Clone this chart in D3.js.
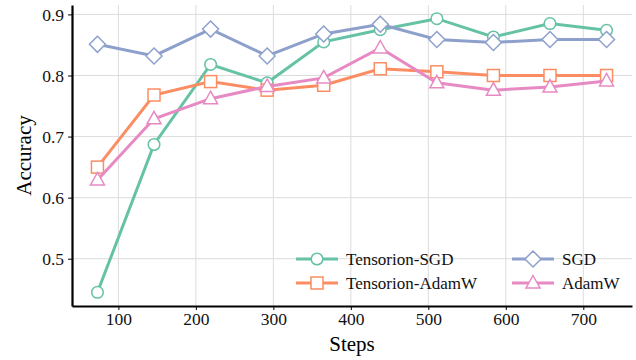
<!DOCTYPE html>
<html>
<head>
<meta charset="utf-8">
<script src="https://cdn.jsdelivr.net/npm/d3@7"></script>
<style>
  body { margin: 0; background: #fff; }
  svg { display: block; }
  svg text { font-family: "Liberation Serif", "DejaVu Serif", serif; }
</style>
</head>
<body>
<div id="chart"></div>
<script>
// data
var steps = [73, 146, 219, 292, 365, 438, 511, 584, 657, 730];
var tensorionSgd   = [0.445, 0.687, 0.818, 0.788, 0.855, 0.875, 0.893, 0.863, 0.885, 0.874];
var sgd            = [0.851, 0.832, 0.876, 0.832, 0.868, 0.884, 0.859, 0.854, 0.859, 0.859];
var tensorionAdamW = [0.650, 0.768, 0.790, 0.776, 0.784, 0.811, 0.806, 0.800, 0.800, 0.800];
var adamW          = [0.629, 0.729, 0.762, 0.782, 0.796, 0.845, 0.788, 0.776, 0.781, 0.791];
var xTicks = [100, 200, 300, 400, 500, 600, 700];
var yTicks = [0.5, 0.6, 0.7, 0.8, 0.9];

var series = [
  {name: "Tensorion-SGD", values: tensorionSgd, color: "#66c2a5", marker: "circle"},
  {name: "Tensorion-AdamW", values: tensorionAdamW, color: "#fc8d62", marker: "square"},
  {name: "SGD", values: sgd, color: "#8da0cb", marker: "diamond"},
  {name: "AdamW", values: adamW, color: "#e78ac3", marker: "triangle"}
];

var W = 636, H = 360;
var margin = {top: 5, right: 4, bottom: 54, left: 72};
var width = W - margin.left - margin.right,
    height = H - margin.top - margin.bottom;

var svg = d3.select("#chart").append("svg")
    .attr("width", W).attr("height", H);
var g = svg.append("g")
    .attr("transform", "translate(" + margin.left + "," + margin.top + ")");

var x = d3.scaleLinear().domain([40.15, 762.85]).range([0, width]);
var y = d3.scaleLinear().domain([0.4226, 0.9154]).range([height, 0]);

// grid
g.append("g").selectAll("line").data(xTicks).join("line")
  .attr("x1", d => x(d)).attr("x2", d => x(d))
  .attr("y1", 0).attr("y2", height)
  .attr("stroke", "#dcdcdc").attr("stroke-width", 1);
g.append("g").selectAll("line").data(yTicks).join("line")
  .attr("y1", d => y(d)).attr("y2", d => y(d))
  .attr("x1", 0).attr("x2", width)
  .attr("stroke", "#dcdcdc").attr("stroke-width", 1);

// axes
var xAxis = g.append("g")
  .attr("transform", "translate(0," + height + ")")
  .call(d3.axisBottom(x).tickValues(xTicks).tickSize(4).tickPadding(3).tickSizeOuter(0));
var yAxis = g.append("g")
  .call(d3.axisLeft(y).tickValues(yTicks).tickFormat(d3.format(".1f")).tickSize(4).tickPadding(4).tickSizeOuter(0));
[xAxis, yAxis].forEach(a => {
  a.attr("font-family", null).attr("font-size", null);
  a.select(".domain").attr("stroke", "#000").attr("stroke-width", 2.2);
  a.selectAll(".tick line").attr("stroke", "#000").attr("stroke-width", 1);
  a.selectAll(".tick text").style("font-size", "17.5px").attr("fill", "#111");
});

// axis labels
svg.append("text")
  .attr("x", margin.left + width / 2).attr("y", 351)
  .attr("text-anchor", "middle").style("font-size", "21px").text("Steps");
svg.append("text")
  .attr("transform", "translate(31," + (margin.top + height / 2) + ") rotate(-90)")
  .attr("text-anchor", "middle").style("font-size", "21px").text("Accuracy");

// markers
function drawMarker(sel, type, color) {
  if (type === "circle") {
    sel.append("circle").attr("r", 5.8);
  } else if (type === "square") {
    sel.append("rect").attr("x", -6).attr("y", -6).attr("width", 12).attr("height", 12);
  } else if (type === "diamond") {
    sel.append("path").attr("d", "M0,-8L8,0L0,8L-8,0Z");
  } else {
    sel.append("path").attr("d", "M0,-7.5L7,5L-7,5Z");
  }
  sel.selectChildren().attr("fill", "#fff").attr("stroke", color).attr("stroke-width", 1.5);
}

var line = d3.line().x(d => x(d[0])).y(d => y(d[1]));

series.forEach(s => {
  var pts = steps.map((st, i) => [st, s.values[i]]);
  var sg = g.append("g");
  sg.append("path").datum(pts)
    .attr("d", line).attr("fill", "none")
    .attr("stroke", s.color).attr("stroke-width", 3);
  sg.selectAll("g.m").data(pts).join("g")
    .attr("class", "m")
    .attr("transform", d => "translate(" + x(d[0]) + "," + y(d[1]) + ")")
    .each(function() { drawMarker(d3.select(this), s.marker, s.color); });
});

// legend
var legendPos = [
  {x: 296, y: 259}, {x: 296, y: 283}, {x: 512, y: 259}, {x: 512, y: 283}
];
series.forEach((s, i) => {
  var p = legendPos[i];
  var lg = svg.append("g").attr("transform", "translate(" + p.x + "," + p.y + ")");
  lg.append("line").attr("x1", 0).attr("x2", 42)
    .attr("stroke", s.color).attr("stroke-width", 3);
  var mk = lg.append("g").attr("transform", "translate(21,0)");
  drawMarker(mk, s.marker, s.color);
  lg.append("text").attr("x", 50).attr("y", 5.5)
    .style("font-size", "17px").attr("fill", "#111").text(s.name);
});
</script>
</body>
</html>
